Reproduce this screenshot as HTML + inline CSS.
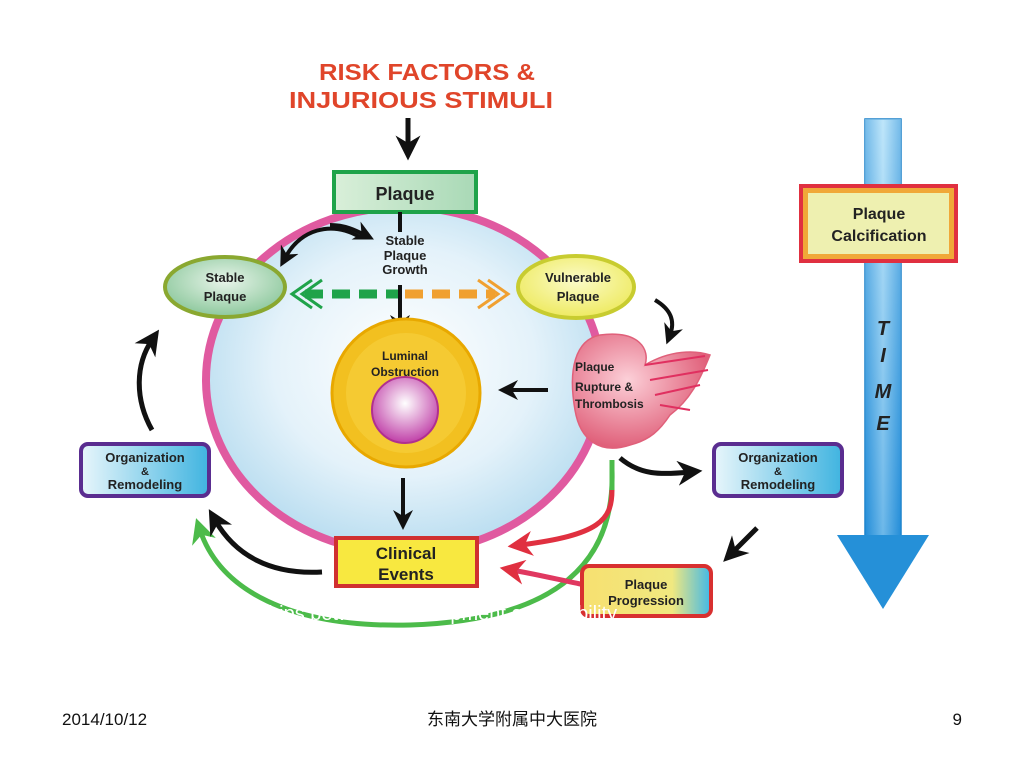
<!DOCTYPE html>
<html><head><meta charset="utf-8"><style>
html,body{margin:0;padding:0;background:#fff;}
svg{display:block;}
text{font-family:"Liberation Sans","Noto Sans CJK SC",sans-serif;}
</style></head><body>
<svg width="1024" height="768" viewBox="0 0 1024 768" xmlns="http://www.w3.org/2000/svg">
<defs>
<radialGradient id="bg" cx="50%" cy="45%" r="55%"><stop offset="0" stop-color="#ffffff"/><stop offset="0.6" stop-color="#e4f2fa"/><stop offset="1" stop-color="#b9ddf0"/></radialGradient>
<linearGradient id="gbox" x1="0" x2="1"><stop offset="0" stop-color="#d9efd9"/><stop offset="1" stop-color="#a9d9b6"/></linearGradient>
<radialGradient id="sp" cx="50%" cy="40%" r="60%"><stop offset="0" stop-color="#e8f4ea"/><stop offset="1" stop-color="#8cc89c"/></radialGradient>
<radialGradient id="vp" cx="50%" cy="40%" r="60%"><stop offset="0" stop-color="#fbfbc8"/><stop offset="1" stop-color="#eeea60"/></radialGradient>
<radialGradient id="pink" cx="50%" cy="40%" r="60%"><stop offset="0" stop-color="#ffffff"/><stop offset="1" stop-color="#c040a8"/></radialGradient>
<radialGradient id="rup" cx="40%" cy="40%" r="60%"><stop offset="0" stop-color="#fcd0d8"/><stop offset="1" stop-color="#e0607a"/></radialGradient>
<linearGradient id="org" x1="0" x2="1"><stop offset="0" stop-color="#e8f6fb"/><stop offset="1" stop-color="#40b4e0"/></linearGradient>
<linearGradient id="prog" x1="0" x2="1"><stop offset="0" stop-color="#f7e070"/><stop offset="0.7" stop-color="#f0e880"/><stop offset="1" stop-color="#40b8e8"/></linearGradient>
<linearGradient id="time" x1="0" x2="1"><stop offset="0" stop-color="#2a8fd8"/><stop offset="0.5" stop-color="#bfe6fa"/><stop offset="1" stop-color="#2a8fd8"/></linearGradient>
<linearGradient id="timev" x1="0" y1="0" x2="0" y2="1"><stop offset="0" stop-color="#bfe6fa"/><stop offset="1" stop-color="#1b8ad8"/></linearGradient>
<marker id="ab" viewBox="0 0 10 10" refX="5" refY="5" markerWidth="5" markerHeight="5" orient="auto"><path d="M0,0 L10,5 L0,10 L3,5z" fill="#111"/></marker>
<marker id="ar" viewBox="0 0 10 10" refX="5" refY="5" markerWidth="5" markerHeight="5" orient="auto"><path d="M0,0 L10,5 L0,10 L3,5z" fill="#e03040"/></marker>
<marker id="ag" viewBox="0 0 10 10" refX="5" refY="5" markerWidth="5" markerHeight="5" orient="auto"><path d="M0,0 L10,5 L0,10 L3,5z" fill="#4cbb4a"/></marker>
</defs>

<text x="427" y="80" font-size="23" font-weight="bold" fill="#e0452a" text-anchor="middle" textLength="216" lengthAdjust="spacingAndGlyphs">RISK FACTORS &amp;</text>
<text x="421" y="108" font-size="23" font-weight="bold" fill="#e0452a" text-anchor="middle" textLength="264" lengthAdjust="spacingAndGlyphs">INJURIOUS STIMULI</text>
<line x1="408" y1="118" x2="408" y2="148" stroke="#111" stroke-width="5" marker-end="url(#ab)"/>

<ellipse cx="404" cy="380" rx="198" ry="173" fill="url(#bg)" stroke="#e05aa0" stroke-width="8"/>

<path d="M612,470 C615,560 560,620 410,625 C290,628 220,590 200,530" fill="none" stroke="#4cbb4a" stroke-width="5" marker-end="url(#ag)"/>
<path d="M612,460 L612,490" stroke="#4cbb4a" stroke-width="5"/>
<path d="M612,490 C612,520 600,535 520,545" fill="none" stroke="#e03040" stroke-width="5" marker-end="url(#ar)"/>
<path d="M585,585 C560,580 540,575 512,570" fill="none" stroke="#e03860" stroke-width="5" marker-end="url(#ar)"/>

<rect x="334" y="172" width="142" height="40" fill="url(#gbox)" stroke="#1fa34a" stroke-width="4"/>
<text x="405" y="200" font-size="18" font-weight="bold" fill="#222" text-anchor="middle">Plaque</text>
<line x1="400" y1="212" x2="400" y2="232" stroke="#111" stroke-width="4"/>
<text x="405" y="245" font-size="13" font-weight="bold" fill="#222" text-anchor="middle">Stable</text>
<text x="405" y="260" font-size="13" font-weight="bold" fill="#222" text-anchor="middle">Plaque</text>
<text x="405" y="274" font-size="13" font-weight="bold" fill="#222" text-anchor="middle">Growth</text>
<path d="M360,237 C330,220 300,230 285,258" fill="none" stroke="#111" stroke-width="4" marker-end="url(#ab)"/>
<path d="M330,225 C345,225 355,230 365,235" fill="none" stroke="#111" stroke-width="4" marker-end="url(#ab)"/>

<ellipse cx="225" cy="287" rx="60" ry="30" fill="url(#sp)" stroke="#8aa830" stroke-width="4"/>
<text x="225" y="282" font-size="13" font-weight="bold" fill="#222" text-anchor="middle">Stable</text>
<text x="225" y="301" font-size="13" font-weight="bold" fill="#222" text-anchor="middle">Plaque</text>
<ellipse cx="576" cy="287" rx="58" ry="31" fill="url(#vp)" stroke="#c8cc30" stroke-width="4"/>
<text x="578" y="282" font-size="13" font-weight="bold" fill="#222" text-anchor="middle">Vulnerable</text>
<text x="578" y="301" font-size="13" font-weight="bold" fill="#222" text-anchor="middle">Plaque</text>

<line x1="305" y1="294" x2="400" y2="294" stroke="#1fa34a" stroke-width="9" stroke-dasharray="18,9"/>
<line x1="405" y1="294" x2="495" y2="294" stroke="#f0a030" stroke-width="9" stroke-dasharray="18,9"/>
<path d="M312,280 L292,294 L312,308 M322,280 L302,294 L322,308" fill="none" stroke="#1fa34a" stroke-width="3"/>
<path d="M488,280 L508,294 L488,308 M478,280 L498,294 L478,308" fill="none" stroke="#f0a030" stroke-width="3"/>
<line x1="400" y1="285" x2="400" y2="325" stroke="#111" stroke-width="4" marker-end="url(#ab)"/>

<circle cx="406" cy="393" r="74" fill="#f2c020" stroke="#e8a800" stroke-width="3"/>
<circle cx="406" cy="393" r="60" fill="#f6d040" opacity="0.6"/>
<circle cx="405" cy="410" r="33" fill="url(#pink)" stroke="#b03090" stroke-width="2"/>
<text x="405" y="360" font-size="12" font-weight="bold" fill="#222" text-anchor="middle">Luminal</text>
<text x="405" y="376" font-size="12" font-weight="bold" fill="#222" text-anchor="middle">Obstruction</text>
<line x1="548" y1="390" x2="508" y2="390" stroke="#111" stroke-width="4" marker-end="url(#ab)"/>

<path d="M600,335 C640,330 650,350 645,365 C670,350 695,350 710,355 C700,380 690,400 670,415 C660,430 650,440 630,445 C600,455 580,440 575,410 C568,370 575,340 600,335z" fill="url(#rup)" stroke="#e0607a" stroke-width="1.5"/>
<path d="M645,365 L705,356 M650,380 L708,370 M655,395 L700,385 M660,405 L690,410" stroke="#e03060" stroke-width="2"/>
<text x="575" y="371" font-size="12" font-weight="bold" fill="#222">Plaque</text>
<text x="575" y="391" font-size="12" font-weight="bold" fill="#222">Rupture &amp;</text>
<text x="575" y="408" font-size="12" font-weight="bold" fill="#222">Thrombosis</text>
<path d="M655,300 C672,310 675,322 670,335" fill="none" stroke="#111" stroke-width="4" marker-end="url(#ab)"/>

<line x1="403" y1="478" x2="403" y2="520" stroke="#111" stroke-width="4" marker-end="url(#ab)"/>
<rect x="336" y="538" width="141" height="48" fill="#f8e840" stroke="#d03030" stroke-width="4"/>
<text x="406" y="559" font-size="17" font-weight="bold" fill="#222" text-anchor="middle">Clinical</text>
<text x="406" y="580" font-size="17" font-weight="bold" fill="#222" text-anchor="middle">Events</text>
<path d="M322,572 C270,575 235,555 215,520" fill="none" stroke="#111" stroke-width="5" marker-end="url(#ab)"/>

<rect x="81" y="444" width="128" height="52" rx="7" fill="url(#org)" stroke="#5a2d90" stroke-width="4"/>
<text x="145" y="462" font-size="13" font-weight="bold" fill="#222" text-anchor="middle">Organization</text>
<text x="145" y="475" font-size="11" font-weight="bold" fill="#222" text-anchor="middle">&amp;</text>
<text x="145" y="489" font-size="13" font-weight="bold" fill="#222" text-anchor="middle">Remodeling</text>
<path d="M152,430 C135,400 135,365 152,340" fill="none" stroke="#111" stroke-width="5" marker-end="url(#ab)"/>

<rect x="714" y="444" width="128" height="52" rx="7" fill="url(#org)" stroke="#5a2d90" stroke-width="4"/>
<text x="778" y="462" font-size="13" font-weight="bold" fill="#222" text-anchor="middle">Organization</text>
<text x="778" y="475" font-size="11" font-weight="bold" fill="#222" text-anchor="middle">&amp;</text>
<text x="778" y="489" font-size="13" font-weight="bold" fill="#222" text-anchor="middle">Remodeling</text>
<path d="M620,458 C640,475 660,475 690,472" fill="none" stroke="#111" stroke-width="5" marker-end="url(#ab)"/>
<line x1="757" y1="528" x2="732" y2="553" stroke="#111" stroke-width="5" marker-end="url(#ab)"/>

<rect x="582" y="566" width="129" height="50" rx="7" fill="url(#prog)" stroke="#d83030" stroke-width="4"/>
<text x="646" y="589" font-size="13" font-weight="bold" fill="#222" text-anchor="middle">Plaque</text>
<text x="646" y="605" font-size="13" font-weight="bold" fill="#222" text-anchor="middle">Progression</text>

<rect x="865" y="119" width="36" height="418" fill="url(#time)" stroke="#1b80c8" stroke-width="1.5"/>
<rect x="865" y="119" width="36" height="418" fill="url(#timev)" opacity="0.5"/>
<path d="M837,535 L929,535 L883,609z" fill="#2590d8"/>
<text x="883" y="335" font-size="20" font-weight="bold" font-style="italic" fill="#222" text-anchor="middle">T</text>
<text x="883" y="362" font-size="20" font-weight="bold" font-style="italic" fill="#222" text-anchor="middle">I</text>
<text x="883" y="398" font-size="20" font-weight="bold" font-style="italic" fill="#222" text-anchor="middle">M</text>
<text x="883" y="430" font-size="20" font-weight="bold" font-style="italic" fill="#222" text-anchor="middle">E</text>

<rect x="801" y="186" width="155" height="75" fill="#f0a838" stroke="#e03040" stroke-width="4"/>
<rect x="808" y="193" width="141" height="61" fill="#eef0b0"/>
<text x="879" y="219" font-size="16" font-weight="bold" fill="#222" text-anchor="middle">Plaque</text>
<text x="879" y="241" font-size="16" font-weight="bold" fill="#222" text-anchor="middle">Calcification</text>

<text x="258" y="620" font-size="20" fill="#fff">ships between development and stability</text>

<text x="62" y="725" font-size="17" fill="#111">2014/10/12</text>
<text x="512" y="725" font-size="17" fill="#111" text-anchor="middle">东南大学附属中大医院</text>
<text x="962" y="725" font-size="17" fill="#111" text-anchor="end">9</text>
</svg>
</body></html>
